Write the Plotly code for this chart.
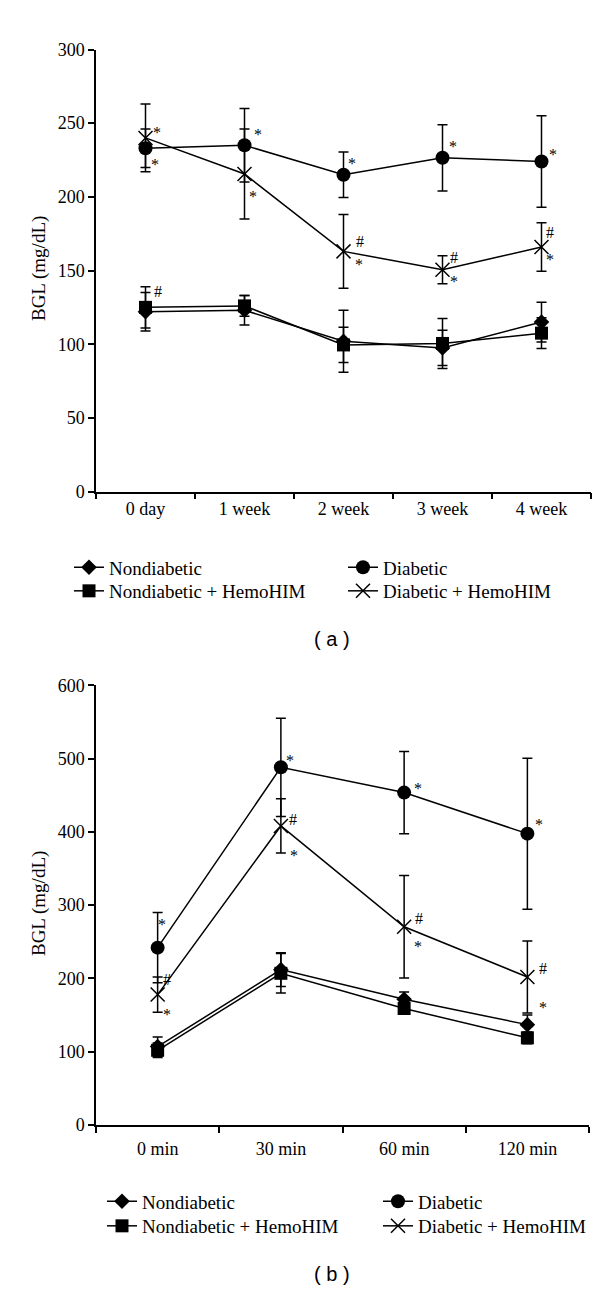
import plotly.graph_objects as go

# ---------------- data: panel (a) ----------------
cats_a = ["0 day", "1 week", "2 week", "3 week", "4 week"]
nondiab_a = [122, 123, 102, 97.5, 115]
nondiab_a_err = [13, 10, 21, 12, 13.5]
nondiab_hemo_a = [125, 126, 99.5, 100.5, 107.5]
nondiab_hemo_a_err = [14, 7, 12, 17, 10.5]
diab_a = [233, 235, 215, 226.5, 224]
diab_a_err = [13, 25, 15.5, 22.5, 31]
diab_hemo_a = [240, 215.5, 163, 150.5, 166]
diab_hemo_a_err = [23, 30.5, 25, 9.5, 16.5]

# ---------------- data: panel (b) ----------------
cats_b = ["0 min", "30 min", "60 min", "120 min"]
nondiab_b = [107, 212, 171.5, 137]
nondiab_b_err = [13, 23, 10, 13]
nondiab_hemo_b = [102, 207, 159, 119]
nondiab_hemo_b_err = [10, 27, 5, 8]
diab_b = [242, 488, 453.5, 397.5]
diab_b_err = [48, 67, 56, 103]
diab_hemo_b = [178, 408, 270.5, 202]
diab_hemo_b_err = [24, 37, 70, 49]

# significance marks: (series, index, text, xshift px, visual yshift px)
marks_a = [
    ("diab_hemo", 0, "*", 11, 8), ("diab", 0, "*", 9, -13), ("nondiab_hemo", 0, "#", 12, 16),
    ("diab", 1, "*", 13, 14), ("diab_hemo", 1, "*", 8, -19),
    ("diab", 2, "*", 8.5, 14), ("diab_hemo", 2, "#", 16, 10), ("diab_hemo", 2, "*", 15.5, -10),
    ("diab", 3, "*", 10.5, 14), ("diab_hemo", 3, "#", 11.5, 12.5), ("diab_hemo", 3, "*", 11.5, -9),
    ("diab", 4, "*", 11.5, 10), ("diab_hemo", 4, "#", 8.5, 14), ("diab_hemo", 4, "*", 8, -10),
]
marks_b = [
    ("diab", 0, "*", 4, 26), ("diab_hemo", 0, "#", 9.6, 15), ("diab_hemo", 0, "*", 9, -17),
    ("diab", 1, "*", 9.6, 10), ("diab_hemo", 1, "#", 12, 6), ("diab_hemo", 1, "*", 13.5, -27),
    ("diab", 2, "*", 13.5, 7), ("diab_hemo", 2, "#", 14.6, 8), ("diab_hemo", 2, "*", 13.5, -17),
    ("diab", 3, "*", 11.5, 12), ("diab_hemo", 3, "#", 15.4, 8), ("diab_hemo", 3, "*", 16, -28),
]

SERIF = "Liberation Serif"
BLACK = "black"
H = 1290.0
W = 600.0

names = {
    "nondiab": "Nondiabetic",
    "diab": "Diabetic",
    "nondiab_hemo": "Nondiabetic + HemoHIM",
    "diab_hemo": "Diabetic + HemoHIM",
}
symbols = {
    "nondiab": dict(symbol="diamond", size=12, color=BLACK),
    "diab": dict(symbol="circle", size=14, color=BLACK),
    "nondiab_hemo": dict(symbol="square", size=13, color=BLACK),
    "diab_hemo": dict(symbol="x-thin-open", size=14, color=BLACK, line=dict(width=1.5, color=BLACK)),
}
order = ["nondiab", "diab", "nondiab_hemo", "diab_hemo"]

fig = go.Figure()
legend_layout = {}
legend_common = dict(orientation="v", bgcolor="rgba(0,0,0,0)", borderwidth=0,
                     font=dict(family=SERIF, size=19, color=BLACK), xanchor="left",
                     yanchor="middle", itemwidth=30)
leg_counter = [0]


def add_panel(cats, series, xa, ya, col_x, row_y):
    for key in order:
        vals, errs = series[key]
        leg_counter[0] += 1
        lid = "legend" if leg_counter[0] == 1 else "legend%d" % leg_counter[0]
        col = 0 if key.startswith("nondiab") else 1
        row = 1 if key.endswith("hemo") else 0
        legend_layout[lid] = dict(x=col_x[col] / W, y=1 - row_y[row] / H, **legend_common)
        fig.add_trace(go.Scatter(
            x=cats, y=vals, mode="lines+markers", name=names[key],
            line=dict(color=BLACK, width=1.5),
            marker=symbols[key],
            error_y=dict(type="data", array=errs, visible=True, color=BLACK,
                         thickness=1.5, width=5),
            xaxis=xa, yaxis=ya, legend=lid, cliponaxis=False,
        ))


series_a = {
    "nondiab": (nondiab_a, nondiab_a_err),
    "diab": (diab_a, diab_a_err),
    "nondiab_hemo": (nondiab_hemo_a, nondiab_hemo_a_err),
    "diab_hemo": (diab_hemo_a, diab_hemo_a_err),
}
series_b = {
    "nondiab": (nondiab_b, nondiab_b_err),
    "diab": (diab_b, diab_b_err),
    "nondiab_hemo": (nondiab_hemo_b, nondiab_hemo_b_err),
    "diab_hemo": (diab_hemo_b, diab_hemo_b_err),
}

add_panel(cats_a, series_a, "x", "y", (61, 335), (558, 582))
add_panel(cats_b, series_b, "x2", "y2", (94, 370), (1202, 1227))

annotations = []


def add_marks(marks, cats, series, xref, yref):
    for key, i, txt, dx, dy in marks:
        vals = series[key][0]
        adj = -3 if txt == "*" else 0
        annotations.append(dict(
            x=cats[i], y=vals[i], xref=xref, yref=yref, text=txt, showarrow=False,
            xshift=dx, yshift=dy + adj, font=dict(family=SERIF, size=16, color=BLACK),
        ))


add_marks(marks_a, cats_a, series_a, "x", "y")
add_marks(marks_b, cats_b, series_b, "x2", "y2")

# y-axis titles and panel captions
for yc in [1 - 255 / H, 1 - 900 / H]:
    annotations.append(dict(x=31 / W, y=yc, xref="paper", yref="paper", text="BGL (mg/dL)",
                            textangle=-90, showarrow=False, xanchor="center", yanchor="middle",
                            font=dict(family=SERIF, size=19, color=BLACK)))
for txt, yc in [("( a )", 1 - 631 / H), ("( b )", 1 - 1276 / H)]:
    annotations.append(dict(x=324 / W, y=yc, xref="paper", yref="paper", text=txt,
                            showarrow=False, xanchor="center", yanchor="middle",
                            font=dict(family="Liberation Sans", size=20, color=BLACK)))

axis_common = dict(showline=True, linecolor=BLACK, linewidth=1.5, ticks="outside", ticklen=6,
                   tickwidth=1.5, tickcolor=BLACK, showgrid=False, zeroline=False,
                   tickfont=dict(family=SERIF, size=18, color=BLACK))

fig.update_layout(
    width=600, height=1290,
    margin=dict(l=0, r=0, t=0, b=0),
    paper_bgcolor="white", plot_bgcolor="white",
    showlegend=True,
    xaxis=dict(domain=[88 / W, 583 / W], anchor="y", type="category", range=[-0.5, 4.5],
               tickson="boundaries", **axis_common),
    yaxis=dict(domain=[1 - 481 / H, 1 - 32 / H], anchor="x", range=[0, 300], dtick=50, **axis_common),
    xaxis2=dict(domain=[88 / W, 581 / W], anchor="y2", type="category", range=[-0.5, 3.5],
                tickson="boundaries", ticklabelstandoff=7, **axis_common),
    yaxis2=dict(domain=[1 - 1124.5 / H, 1 - 677.7 / H], anchor="x2", range=[0, 600], dtick=100,
                **axis_common),
    annotations=annotations,
    **legend_layout,
)

fig.write_html("out.html")
